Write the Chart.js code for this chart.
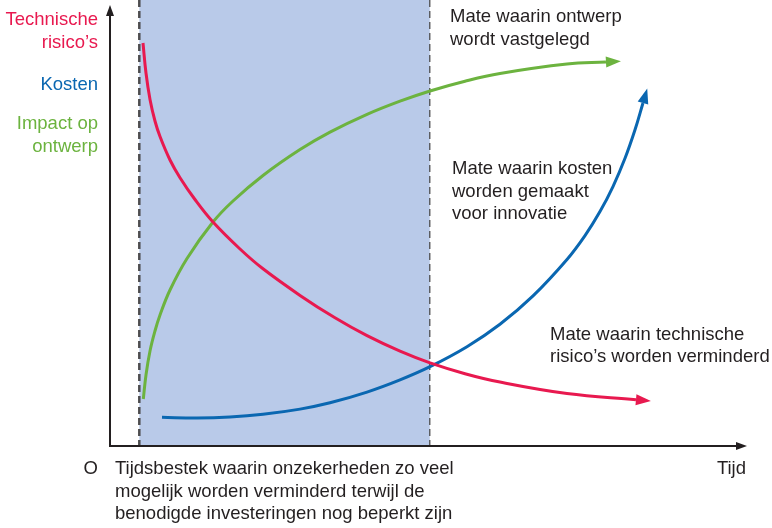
<!DOCTYPE html>
<html lang="nl">
<head>
<meta charset="utf-8">
<title>Technische risico's, kosten en impact op ontwerp</title>
<script src="https://cdn.jsdelivr.net/npm/chart.js@4.4.1/dist/chart.umd.min.js"></script>
<style>
  html, body { margin: 0; padding: 0; background: #fff; }
  #wrap { width: 772px; height: 528px; }
</style>
</head>
<body>
<div id="wrap"><canvas id="chart" width="772" height="528"></canvas></div>
<script>
// Curves (x = time, y = level, both on a 0-100 scale)
// last point of each curve = where the arrow head starts
const riskX = [5.18, 5.65, 6.28, 7.06, 7.85, 9.42, 10.99, 13.34, 16.17, 20.41, 24.02, 29.83, 35.32, 40.35, 45.53, 50.24, 55.73, 61.22, 71.74, 82.57];
const riskY = [90.36, 83.63, 77.69, 72.87, 69.39, 64.13, 60.16, 55.27, 50.22, 44.17, 39.73, 33.77, 28.74, 24.73, 21.26, 18.63, 16.21, 14.33, 11.77, 10.38];

const costX = [8.16, 13.66, 18.84, 24.02, 29.83, 34.54, 40.35, 45.53, 50.24, 56.04, 61.22, 66.41, 71.74, 74.57, 76.92, 78.96, 80.85, 82.42, 83.67];
const costY = [6.43, 6.28, 6.50, 7.11, 8.27, 9.69, 12.09, 14.82, 17.78, 22.26, 27.29, 33.65, 41.82, 47.17, 52.56, 58.18, 64.51, 70.90, 76.91];

const impactX = [5.23, 5.65, 6.28, 7.06, 7.85, 9.42, 12.09, 16.17, 19.31, 24.02, 29.83, 34.54, 40.35, 45.53, 50.24, 55.73, 61.22, 71.74, 77.86];
const impactY = [10.54, 15.92, 21.30, 25.78, 29.37, 34.98, 42.04, 50.22, 54.93, 60.65, 66.46, 70.36, 74.35, 77.31, 79.60, 81.79, 83.52, 85.63, 86.10];

// shaded time window
const bandStart = 4.6;
const bandEnd = 50.2;

const seriesNames = ['Technische risico\u2019s', 'Kosten', 'Impact op ontwerp'];
const seriesColors = ['#e8194f', '#0a67b1', '#6cb33f'];

const leftLabels = [['Technische', 'risico\u2019s'], ['Kosten'], ['Impact op', 'ontwerp']];
const designNote = ['Mate waarin ontwerp', 'wordt vastgelegd'];
const costNote = ['Mate waarin kosten', 'worden gemaakt', 'voor innovatie'];
const riskNote = ['Mate waarin technische', 'risico\u2019s worden verminderd'];
const windowNote = ['Tijdsbestek waarin onzekerheden zo veel', 'mogelijk worden verminderd terwijl de', 'benodigde investeringen nog beperkt zijn'];
const originLabel = 'O';
const timeLabel = 'Tijd';

const FONT = '18.5px "Liberation Sans", Arial, sans-serif';
const INK = '#231f20';

function toPoints(xs, ys) {
  return xs.map((x, i) => ({ x: x, y: ys[i] }));
}

function arrow(ctx, x, y, ang, len, half, color) {
  // (x, y) is the base, tip goes len further along ang
  const tx = x + Math.cos(ang) * len, ty = y + Math.sin(ang) * len;
  ctx.save();
  ctx.fillStyle = color;
  ctx.beginPath();
  ctx.moveTo(tx, ty);
  ctx.lineTo(x - Math.sin(ang) * half, y + Math.cos(ang) * half);
  ctx.lineTo(x + Math.sin(ang) * half, y - Math.cos(ang) * half);
  ctx.closePath();
  ctx.fill();
  ctx.restore();
}

function textLines(ctx, lines, x, y, step) {
  lines.forEach((t, i) => ctx.fillText(t, x, y + i * step));
}

// band, dashed borders and axes under the curves
const backdrop = {
  id: 'backdrop',
  beforeDatasetsDraw(chart) {
    const { ctx, chartArea: a, scales: { x } } = chart;
    const x0 = x.getPixelForValue(bandStart), x1 = x.getPixelForValue(bandEnd);
    ctx.save();
    ctx.fillStyle = '#b9cae9';
    ctx.fillRect(x0, a.top, x1 - x0, a.bottom - a.top);

    ctx.strokeStyle = '#4d4d4f';
    ctx.setLineDash([7, 4]);
    ctx.lineWidth = 2.5;
    ctx.beginPath();
    ctx.moveTo(x0, a.top); ctx.lineTo(x0, a.bottom);
    ctx.stroke();
    ctx.lineWidth = 1.3;
    ctx.beginPath();
    ctx.moveTo(x1, a.top); ctx.lineTo(x1, a.bottom);
    ctx.stroke();
    ctx.setLineDash([]);

    // axes
    ctx.strokeStyle = INK;
    ctx.lineWidth = 2;
    ctx.beginPath();
    ctx.moveTo(a.left, a.top + 12); ctx.lineTo(a.left, a.bottom);
    ctx.lineTo(a.right - 10, a.bottom);
    ctx.stroke();
    ctx.restore();
    arrow(ctx, a.left, a.top + 16, -Math.PI / 2, 11, 4, INK);
    arrow(ctx, a.right - 11, a.bottom, 0, 11, 4, INK);
  }
};

// arrow heads and all text on top
const overlay = {
  id: 'overlay',
  afterDatasetsDraw(chart) {
    const ctx = chart.ctx;
    chart.data.datasets.forEach((ds, i) => {
      const pts = chart.getDatasetMeta(i).data;
      const end = pts[pts.length - 1];
      const prev = pts[pts.length - 2];
      const px = end.cp1x !== undefined ? end.cp1x : prev.x;
      const py = end.cp1y !== undefined ? end.cp1y : prev.y;
      arrow(ctx, end.x, end.y, Math.atan2(end.y - py, end.x - px), 15, 5.5, ds.borderColor);
    });
  },
  afterDraw(chart) {
    const ctx = chart.ctx;
    ctx.save();
    ctx.font = FONT;
    ctx.textBaseline = 'alphabetic';

    ctx.textAlign = 'right';
    ctx.fillStyle = seriesColors[0];
    textLines(ctx, leftLabels[0], 98, 25, 23);
    ctx.fillStyle = seriesColors[1];
    textLines(ctx, leftLabels[1], 98, 90, 23);
    ctx.fillStyle = seriesColors[2];
    textLines(ctx, leftLabels[2], 98, 129, 23);

    ctx.fillStyle = INK;
    ctx.fillText(originLabel, 98, 474);
    ctx.fillText(timeLabel, 746, 474);

    ctx.textAlign = 'left';
    textLines(ctx, designNote, 450, 22, 22.5);
    textLines(ctx, costNote, 452, 174, 22.5);
    textLines(ctx, riskNote, 550, 339.5, 22.5);
    textLines(ctx, windowNote, 115, 474, 22.5);
    ctx.restore();
  }
};

new Chart(document.getElementById('chart'), {
  type: 'line',
  data: {
    datasets: [
      { label: seriesNames[0], data: toPoints(riskX, riskY), borderColor: seriesColors[0] },
      { label: seriesNames[1], data: toPoints(costX, costY), borderColor: seriesColors[1] },
      { label: seriesNames[2], data: toPoints(impactX, impactY), borderColor: seriesColors[2] }
    ]
  },
  options: {
    responsive: false,
    animation: false,
    devicePixelRatio: 1,
    layout: { padding: { left: 110, right: 25, top: 0, bottom: 82 } },
    elements: {
      point: { radius: 0 },
      line: { borderWidth: 3, fill: false, tension: 0.4, borderCapStyle: 'butt' }
    },
    plugins: { legend: { display: false }, tooltip: { enabled: false } },
    scales: {
      x: { type: 'linear', min: 0, max: 100, display: false },
      y: { type: 'linear', min: 0, max: 100, display: false }
    }
  },
  plugins: [backdrop, overlay]
});
</script>
</body>
</html>
